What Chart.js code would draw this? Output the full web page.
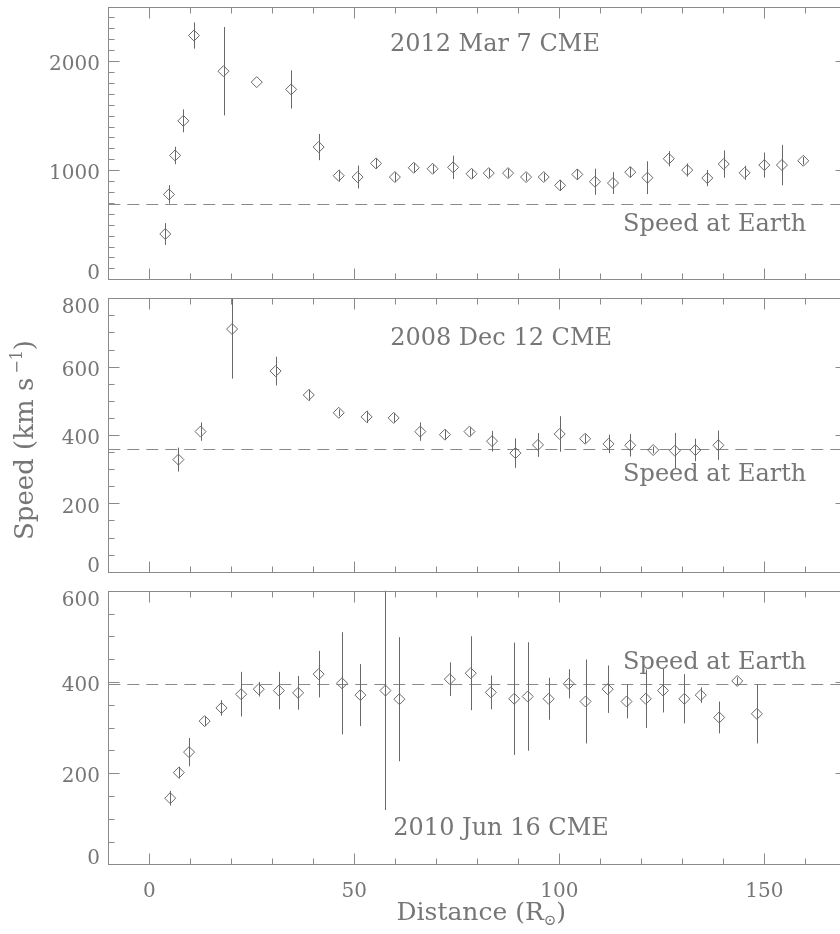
<!DOCTYPE html>
<html><head><meta charset="utf-8">
<script src="https://cdn.jsdelivr.net/npm/chart.js@4.4.1/dist/chart.umd.min.js"></script>
<style>
html,body{margin:0;padding:0;background:#fff;width:840px;height:934px;overflow:hidden;position:relative}
canvas{position:absolute;left:0}
</style></head><body>
<canvas id="p1" width="880" height="290" style="top:0px"></canvas>
<canvas id="p2" width="880" height="290" style="top:290px"></canvas>
<canvas id="p3" width="880" height="354" style="top:580px"></canvas>
<script>
// ---------- data ----------
// Panel 1: 2012 Mar 7 CME
const dist1  = [3.9, 4.8, 6.3, 8.3, 10.9, 18.1, 26.2, 34.6, 41.3, 46.2, 50.8, 55.3, 59.9, 64.5, 69.1, 74.1, 78.6, 82.8, 87.5, 91.9, 96.2, 100.2, 104.4, 108.7, 113.1, 117.3, 121.5, 126.7, 131.2, 136.1, 140.1, 145.2, 150.0, 154.3, 159.5];
const speed1 = [415, 778, 1135, 1452, 2234, 1907, 1807, 1740, 1212, 949, 937, 1062, 937, 1022, 1013, 1026, 967, 973, 973, 937, 937, 861, 961, 894, 882, 982, 931, 1105, 1001, 928, 1056, 976, 1047, 1047, 1086];
const err1   = [100, 85, 80, 105, 120, 405, 0, 175, 120, 55, 105, 50, 45, 45, 40, 107, 45, 40, 40, 35, 35, 50, 50, 120, 100, 50, 150, 70, 60, 75, 125, 65, 115, 185, 35];
const earth1 = 691;
// Panel 2: 2008 Dec 12 CME
const dist2  = [7.1, 12.5, 20.2, 30.8, 38.9, 46.2, 53.0, 59.6, 66.1, 72.1, 78.1, 83.6, 89.3, 94.8, 100.1, 106.3, 112.0, 117.3, 122.9, 128.2, 133.2, 138.8];
const speed2 = [328, 410, 710, 587, 517, 465, 453, 450, 410, 401, 410, 382, 347, 371, 403, 389, 374, 370, 356, 354, 356, 370];
const err2   = [35, 27, 145, 42, 17, 10, 18, 15, 27, 15, 12, 30, 43, 35, 52, 13, 27, 33, 10, 52, 33, 43];
const earth2 = 359;
// Panel 3: 2010 Jun 16 CME
const dist3  = [5.1, 7.2, 9.7, 13.5, 17.6, 22.4, 26.7, 31.6, 36.3, 41.3, 47.0, 51.5, 57.6, 61.0, 73.3, 78.4, 83.3, 89.0, 92.3, 97.4, 102.3, 106.4, 111.8, 116.4, 121.1, 125.3, 130.5, 134.5, 139.0, 143.4, 148.2];
const speed3 = [145, 201, 246, 314, 343, 373, 384, 381, 376, 417, 397, 371, 381, 362, 406, 419, 377, 363, 368, 363, 396, 357, 384, 357, 363, 381, 363, 371, 322, 402, 330];
const err3   = [16, 13, 31, 11, 17, 49, 16, 41, 37, 51, 112, 68, 262, 136, 37, 81, 37, 123, 119, 46, 32, 92, 52, 37, 64, 48, 54, 17, 35, 8, 65];
const earth3 = 395;

// tick labels
const xTickLabels = [0, 50, 100, 150];
const yTicks1 = [0, 1000, 2000];
const yTicks2 = [0, 200, 400, 600, 800];
const yTicks3 = [0, 200, 400, 600];

const titles = ['2012 Mar 7 CME', '2008 Dec 12 CME', '2010 Jun 16 CME'];
const earthLabel = 'Speed at Earth';
const xTitle = ['Distance (R', '\u2299', ')'];
const yTitle = ['Speed (km s', '\u22121', ')'];

// ---------- style ----------
const FONT = '"DejaVu Serif", serif';
const TEXT = '#767676';
const FRAME = '#8a8a8a';
const MARK = '#686868';
const DASH = '#8a8a8a';

const idlPlugin = {
  id: 'idl',
  beforeDatasetsDraw(chart, args, o) {
    const {ctx, chartArea: a, scales: {x, y}} = chart;
    ctx.save();
    ctx.beginPath(); ctx.rect(a.left, a.top, a.right - a.left, a.bottom - a.top); ctx.clip();
    // speed at Earth dashed line
    ctx.strokeStyle = DASH; ctx.lineWidth = 1; ctx.setLineDash([12, 7]);
    const ye = Math.round(y.getPixelForValue(o.earth)) + 0.5;
    ctx.beginPath(); ctx.moveTo(a.left, ye); ctx.lineTo(a.right, ye); ctx.stroke();
    ctx.setLineDash([]);
    // error bars
    ctx.strokeStyle = MARK; ctx.lineWidth = 1;
    ctx.beginPath();
    o.dist.forEach((d, i) => {
      if (!o.err[i]) return;
      const px = Math.round(x.getPixelForValue(d)) + 0.5;
      ctx.moveTo(px, y.getPixelForValue(o.speed[i] - o.err[i]));
      ctx.lineTo(px, y.getPixelForValue(o.speed[i] + o.err[i]));
    });
    ctx.stroke();
    ctx.restore();
  },
  afterDraw(chart, args, o) {
    const {ctx, chartArea: a, scales: {x, y}} = chart;
    ctx.save();
    const L = Math.round(a.left) + 0.5, R = Math.round(a.right) + 0.5;
    const T = Math.round(a.top) + 0.5, B = Math.round(a.bottom) + 0.5;
    ctx.strokeStyle = FRAME; ctx.lineWidth = 1;
    ctx.strokeRect(L, T, R - L, B - T);
    ctx.beginPath();
    for (let v = 0; v < x.max; v += 10) {
      const px = Math.round(x.getPixelForValue(v)) + 0.5;
      const len = (v % 50 === 0) ? 11 : 6;
      ctx.moveTo(px, B); ctx.lineTo(px, B - len);
      ctx.moveTo(px, T); ctx.lineTo(px, T + len);
    }
    for (let v = o.yMinor; v < y.max; v += o.yMinor) {
      const py = Math.round(y.getPixelForValue(v)) + 0.5;
      const len = (v % o.yMajor === 0) ? 11 : 6;
      ctx.moveTo(L, py); ctx.lineTo(L + len, py);
      ctx.moveTo(R, py); ctx.lineTo(R - len, py);
    }
    ctx.stroke();
    // y tick labels
    ctx.fillStyle = TEXT;
    ctx.font = '20px ' + FONT;
    ctx.textAlign = 'right'; ctx.textBaseline = 'alphabetic';
    o.yTicks.forEach(v => {
      let cy = y.getPixelForValue(v) + 2;
      cy = Math.max(a.top + 7.5, Math.min(a.bottom - 7.5, cy));
      ctx.fillText(String(v), 100, cy + 7.3);
    });
    // x tick labels
    if (o.xLabels) {
      ctx.textAlign = 'center';
      xTickLabels.forEach(v => ctx.fillText(String(v), x.getPixelForValue(v), a.bottom + 33));
    }
    // panel texts
    ctx.font = '24px ' + FONT;
    o.texts.forEach(t => {
      ctx.textAlign = 'center';
      ctx.fillText(t.text, x.getPixelForValue(t.x), y.getPixelForValue(t.y) + 8.7);
    });
    // axis titles
    if (o.xTitle) {
      const fs = 25, sub = 15;
      ctx.font = fs + 'px ' + FONT; const w1 = ctx.measureText(xTitle[0]).width, w3 = ctx.measureText(xTitle[2]).width;
      ctx.font = sub + 'px ' + FONT; const w2 = ctx.measureText(xTitle[1]).width;
      const cx = (a.left + a.right) / 2 + 4;
      let sx = cx - (w1 + w2 + w3) / 2; const by = a.bottom + 56;
      ctx.textAlign = 'left';
      ctx.font = fs + 'px ' + FONT; ctx.fillText(xTitle[0], sx, by); sx += w1;
      ctx.font = sub + 'px ' + FONT; ctx.fillText(xTitle[1], sx, by + 5); sx += w2;
      ctx.font = fs + 'px ' + FONT; ctx.fillText(xTitle[2], sx, by);
    }
    if (o.yTitle) {
      const fs = 26, sup = 16;
      ctx.font = fs + 'px ' + FONT; const w1 = ctx.measureText(yTitle[0]).width, w3 = ctx.measureText(yTitle[2]).width;
      ctx.font = sup + 'px ' + FONT; const w2 = ctx.measureText(yTitle[1]).width;
      const total = w1 + w2 + w3 + 4;
      ctx.translate(33, 150); ctx.rotate(-Math.PI / 2);
      let sx = -total / 2;
      ctx.textAlign = 'left';
      ctx.font = fs + 'px ' + FONT; ctx.fillText(yTitle[0], sx, 0); sx += w1 + 4;
      ctx.font = sup + 'px ' + FONT; ctx.fillText(yTitle[1], sx, -11); sx += w2;
      ctx.font = fs + 'px ' + FONT; ctx.fillText(yTitle[2], sx, 0);
    }
    ctx.restore();
  }
};

function makePanel(id, dist, speed, err, earth, yMax, yMajor, yMinor, yTicks, pad, texts, extra) {
  const pts = dist.map((d, i) => ({x: d, y: speed[i]}));
  return new Chart(document.getElementById(id), {
    type: 'scatter',
    data: {datasets: [{data: pts, pointStyle: 'rectRot', pointRadius: 5.5, pointBorderWidth: 1,
      pointBorderColor: MARK, pointBackgroundColor: 'rgba(0,0,0,0)', showLine: false}]},
    options: {
      responsive: false, devicePixelRatio: 1, animation: false, events: [],
      layout: {padding: pad},
      scales: {
        x: {type: 'linear', min: -10, max: 170, display: false},
        y: {type: 'linear', min: 0, max: yMax, display: false}
      },
      plugins: {
        legend: {display: false}, tooltip: {enabled: false},
        idl: Object.assign({dist, speed, err, earth, yMajor, yMinor, yTicks, texts}, extra)
      }
    },
    plugins: [idlPlugin]
  });
}

makePanel('p1', dist1, speed1, err1, earth1, 2500, 1000, 100, yTicks1,
  {top: 6.3, bottom: 10.7, left: 108.3, right: 33.7},
  [{text: titles[0], x: 84.3, y: 2168}, {text: earthLabel, x: 137.9, y: 525}], {});
makePanel('p2', dist2, speed2, err2, earth2, 800, 200, 50, yTicks2,
  {top: 8.3, bottom: 8.3, left: 108.3, right: 33.7},
  [{text: titles[1], x: 85.8, y: 688}, {text: earthLabel, x: 137.9, y: 292}], {yTitle: true});
makePanel('p3', dist3, speed3, err3, earth3, 600, 200, 50, yTicks3,
  {top: 10.7, bottom: 69.7, left: 108.3, right: 33.7},
  [{text: earthLabel, x: 137.9, y: 448}, {text: titles[2], x: 85.8, y: 84}], {xLabels: true, xTitle: true});
</script>
</body></html>
